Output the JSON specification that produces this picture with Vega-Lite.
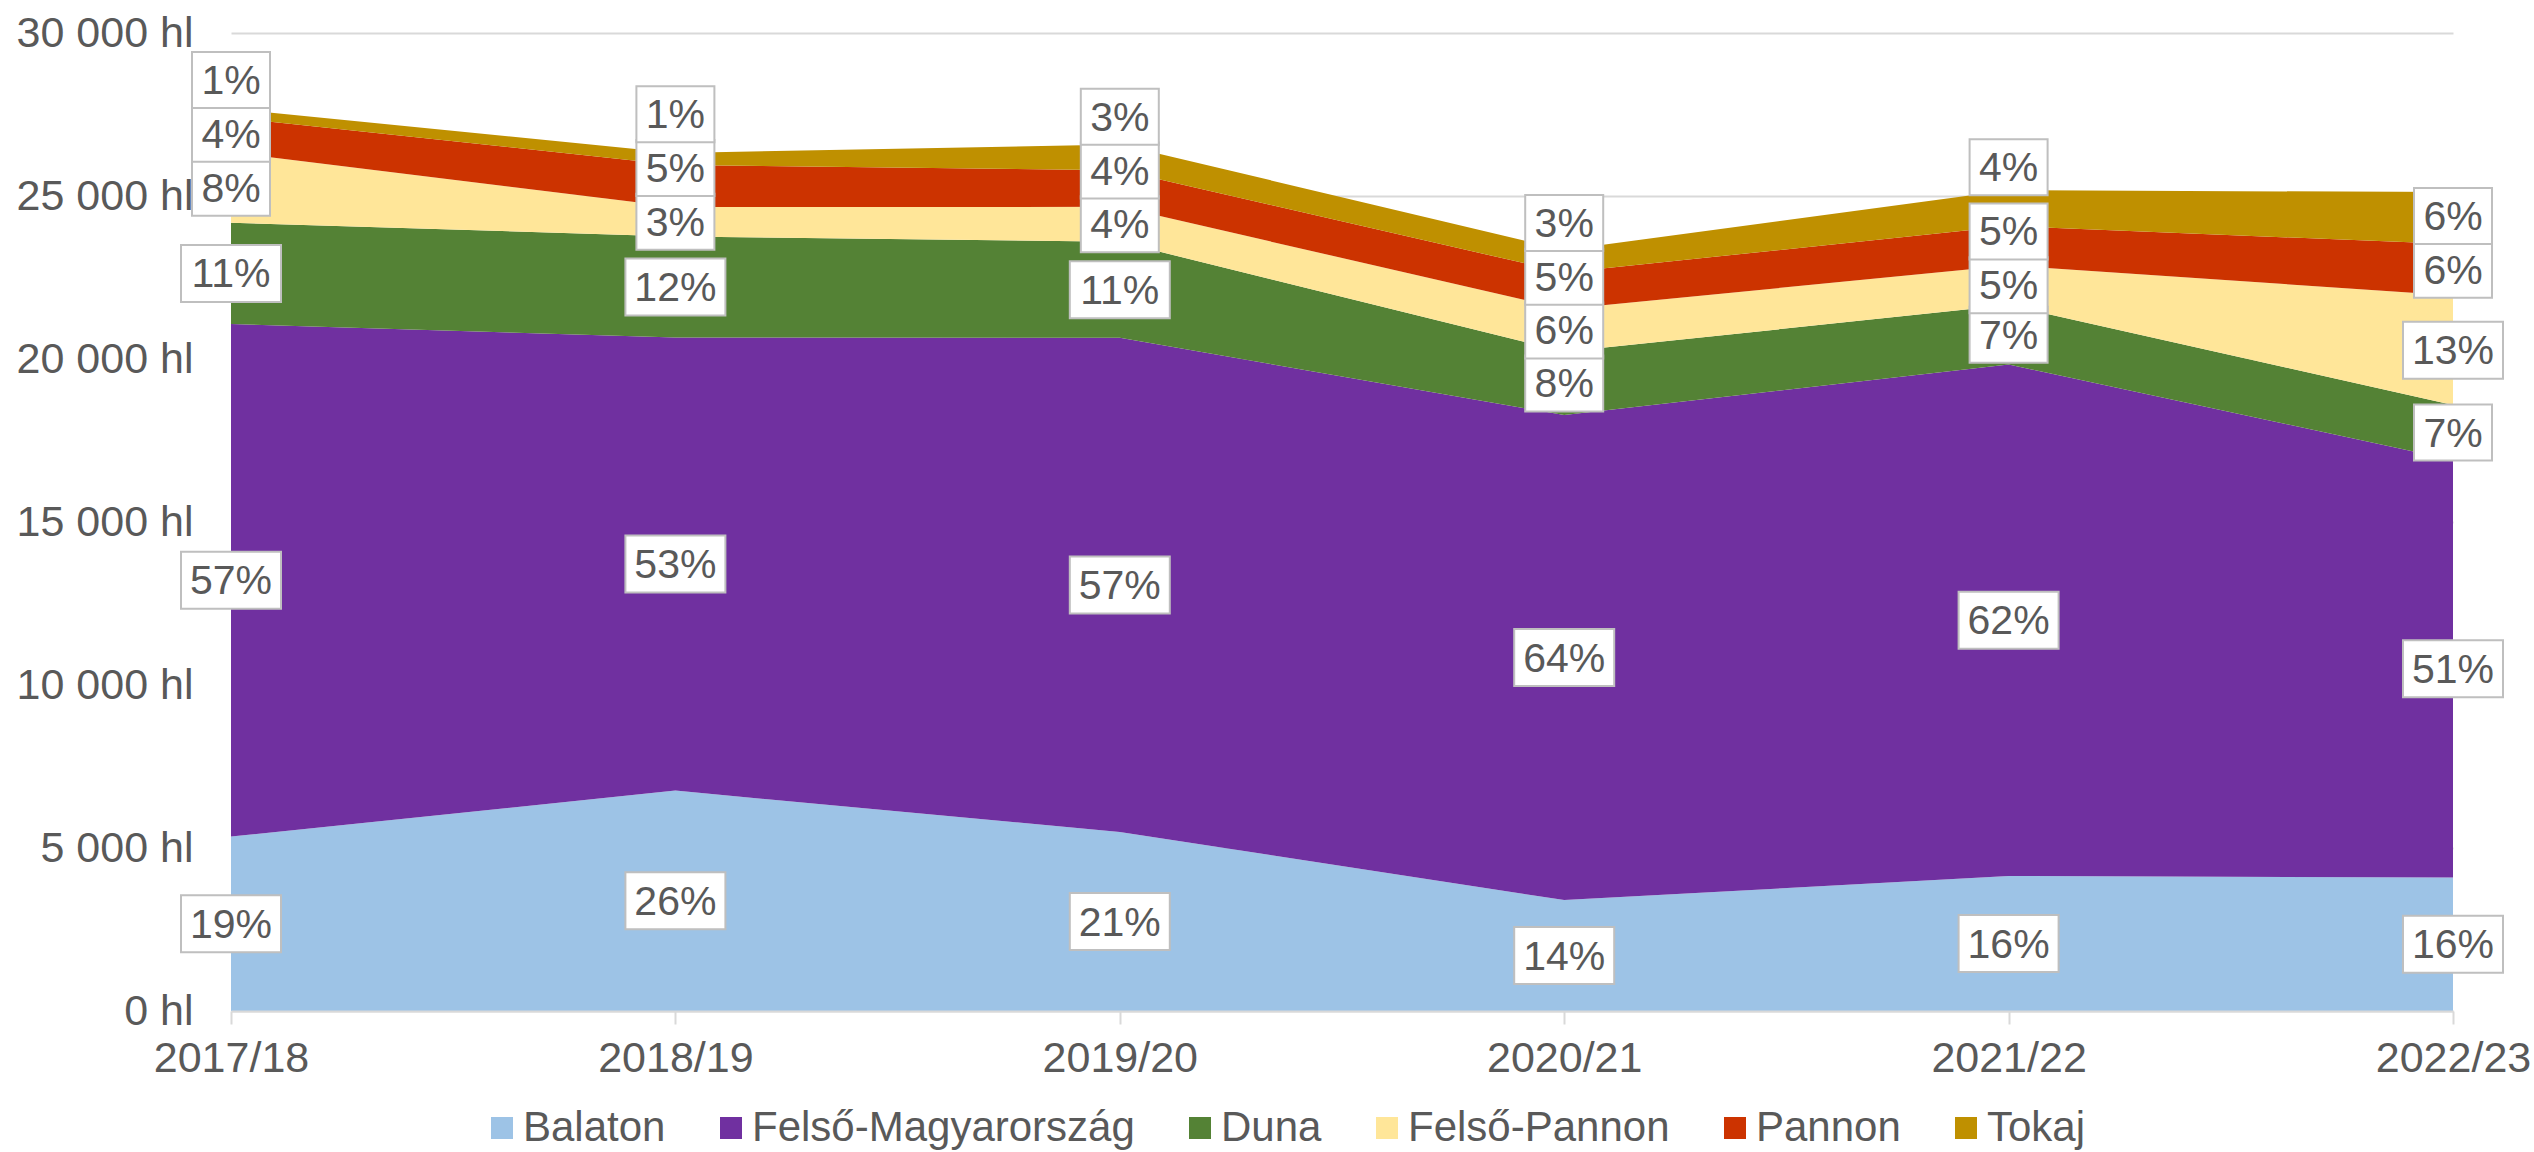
{
  "$schema": "https://vega.github.io/schema/vega-lite/v6.json",
  "autosize": {"type": "none"},
  "width": 2222,
  "height": 978,
  "padding": {"left": 231, "top": 33, "right": 81, "bottom": 141},
  "background": "white",
  "config": {
    "font": "Liberation Sans, Arial, sans-serif",
    "view": {"stroke": null}
  },
  "data": {
    "values": [
      {"year": "2017/18", "series": "Balaton", "o": 1, "v": 5350, "pct": "19%"},
      {"year": "2017/18", "series": "Felső-Magyarország", "o": 2, "v": 15720, "pct": "57%"},
      {"year": "2017/18", "series": "Duna", "o": 3, "v": 3107, "pct": "11%"},
      {"year": "2017/18", "series": "Felső-Pannon", "o": 4, "v": 2159, "pct": "8%"},
      {"year": "2017/18", "series": "Pannon", "o": 5, "v": 1074, "pct": "4%"},
      {"year": "2017/18", "series": "Tokaj", "o": 6, "v": 264, "pct": "1%"},
      {"year": "2018/19", "series": "Balaton", "o": 1, "v": 6760, "pct": "26%"},
      {"year": "2018/19", "series": "Felső-Magyarország", "o": 2, "v": 13900, "pct": "53%"},
      {"year": "2018/19", "series": "Duna", "o": 3, "v": 3100, "pct": "12%"},
      {"year": "2018/19", "series": "Felső-Pannon", "o": 4, "v": 900, "pct": "3%"},
      {"year": "2018/19", "series": "Pannon", "o": 5, "v": 1290, "pct": "5%"},
      {"year": "2018/19", "series": "Tokaj", "o": 6, "v": 370, "pct": "1%"},
      {"year": "2019/20", "series": "Balaton", "o": 1, "v": 5490, "pct": "21%"},
      {"year": "2019/20", "series": "Felső-Magyarország", "o": 2, "v": 15160, "pct": "57%"},
      {"year": "2019/20", "series": "Duna", "o": 3, "v": 2944, "pct": "11%"},
      {"year": "2019/20", "series": "Felső-Pannon", "o": 4, "v": 1074, "pct": "4%"},
      {"year": "2019/20", "series": "Pannon", "o": 5, "v": 1125, "pct": "4%"},
      {"year": "2019/20", "series": "Tokaj", "o": 6, "v": 789, "pct": "3%"},
      {"year": "2020/21", "series": "Balaton", "o": 1, "v": 3404, "pct": "14%"},
      {"year": "2020/21", "series": "Felső-Magyarország", "o": 2, "v": 14875, "pct": "64%"},
      {"year": "2020/21", "series": "Duna", "o": 3, "v": 1942, "pct": "8%"},
      {"year": "2020/21", "series": "Felső-Pannon", "o": 4, "v": 1309, "pct": "6%"},
      {"year": "2020/21", "series": "Pannon", "o": 5, "v": 1126, "pct": "5%"},
      {"year": "2020/21", "series": "Tokaj", "o": 6, "v": 684, "pct": "3%"},
      {"year": "2021/22", "series": "Balaton", "o": 1, "v": 4140, "pct": "16%"},
      {"year": "2021/22", "series": "Felső-Magyarország", "o": 2, "v": 15694, "pct": "62%"},
      {"year": "2021/22", "series": "Duna", "o": 3, "v": 1819, "pct": "7%"},
      {"year": "2021/22", "series": "Felső-Pannon", "o": 4, "v": 1218, "pct": "5%"},
      {"year": "2021/22", "series": "Pannon", "o": 5, "v": 1205, "pct": "5%"},
      {"year": "2021/22", "series": "Tokaj", "o": 6, "v": 1104, "pct": "4%"},
      {"year": "2022/23", "series": "Balaton", "o": 1, "v": 4094, "pct": "16%"},
      {"year": "2022/23", "series": "Felső-Magyarország", "o": 2, "v": 12806, "pct": "51%"},
      {"year": "2022/23", "series": "Duna", "o": 3, "v": 1686, "pct": "7%"},
      {"year": "2022/23", "series": "Felső-Pannon", "o": 4, "v": 3365, "pct": "13%"},
      {"year": "2022/23", "series": "Pannon", "o": 5, "v": 1573, "pct": "6%"},
      {"year": "2022/23", "series": "Tokaj", "o": 6, "v": 1595, "pct": "6%"}
    ]
  },
  "encoding": {
    "x": {
      "field": "year",
      "type": "ordinal",
      "sort": null,
      "scale": {"type": "point", "padding": 0},
      "axis": {
        "title": null,
        "labelAngle": 0,
        "labelFontSize": 43,
        "labelColor": "#595959",
        "labelPadding": 13,
        "domainColor": "#d9d9d9",
        "domainWidth": 2,
        "tickColor": "#d9d9d9",
        "tickWidth": 2,
        "tickSize": 13,
        "grid": false,
        "zindex": 1
      }
    }
  },
  "layer": [
    {
      "mark": {"type": "area", "opacity": 1},
      "encoding": {
        "y": {
          "field": "v",
          "type": "quantitative",
          "stack": "zero",
          "scale": {"domain": [0, 30000], "nice": false},
          "axis": {
            "title": null,
            "values": [0, 5000, 10000, 15000, 20000, 25000, 30000],
            "labelExpr": "replace(format(datum.value, ','), ',', ' ') + ' hl'",
            "labelFontSize": 43,
            "labelColor": "#595959",
            "labelPadding": 38,
            "ticks": false,
            "domain": false,
            "gridColor": "#d9d9d9",
            "gridWidth": 2
          }
        },
        "color": {
          "field": "series",
          "type": "nominal",
          "scale": {
            "domain": ["Balaton", "Felső-Magyarország", "Duna", "Felső-Pannon", "Pannon", "Tokaj"],
            "range": ["#9dc3e6", "#7030a0", "#548235", "#ffe699", "#cc3300", "#bf9000"]
          },
          "legend": {
            "title": null,
            "orient": "none",
            "direction": "horizontal",
            "columns": 6,
            "legendX": 250,
            "legendY": 1074,
            "symbolType": "square",
            "symbolSize": 484,
            "symbolStrokeWidth": 0,
            "labelFontSize": 42,
            "labelColor": "#595959",
            "labelLimit": 0,
            "labelOffset": 0,
            "columnPadding": 44
          }
        },
        "order": {"field": "o", "type": "quantitative"}
      }
    },
    {
      "transform": [
        {"stack": "v", "groupby": ["year"], "sort": [{"field": "o", "order": "ascending"}], "as": ["y0", "y1"]},
        {"calculate": "datum.series == 'Tokaj' && datum.year != '2022/23' ? datum.y1 + 700 : (datum.y0 + datum.y1) / 2", "as": "ly"},
        {"window": [{"op": "lag", "field": "ly", "as": "prev"}], "groupby": ["year"], "sort": [{"field": "o", "order": "ascending"}]},
        {"calculate": "datum.series == 'Pannon' ? max(datum.ly, datum.prev + 1650) : datum.ly", "as": "ly2"},
        {"window": [{"op": "lag", "field": "ly2", "as": "prev2"}], "groupby": ["year"], "sort": [{"field": "o", "order": "ascending"}]},
        {"calculate": "datum.series == 'Tokaj' ? max(datum.ly2, datum.prev2 + 1650) : datum.ly2", "as": "ly3"},
        {"calculate": "length(datum.pct)", "as": "plen"}
      ],
      "layer": [
        {
          "transform": [{"filter": "datum.plen == 2"}],
          "mark": {"type": "point", "filled": true, "fill": "white", "stroke": "#bfbfbf", "strokeWidth": 2, "opacity": 1, "shape": "M-1,-0.718L1,-0.718L1,0.718L-1,0.718Z", "size": 6084},
          "encoding": {"y": {"field": "ly3", "type": "quantitative"}}
        },
        {
          "transform": [{"filter": "datum.plen == 3"}],
          "mark": {"type": "point", "filled": true, "fill": "white", "stroke": "#bfbfbf", "strokeWidth": 2, "opacity": 1, "shape": "M-1,-0.57L1,-0.57L1,0.57L-1,0.57Z", "size": 10000},
          "encoding": {"y": {"field": "ly3", "type": "quantitative"}}
        },
        {
          "mark": {"type": "text", "fontSize": 41, "color": "#595959", "align": "center", "baseline": "middle", "dy": 2},
          "encoding": {
            "y": {"field": "ly3", "type": "quantitative"},
            "text": {"field": "pct", "type": "nominal"}
          }
        }
      ]
    }
  ]
}
